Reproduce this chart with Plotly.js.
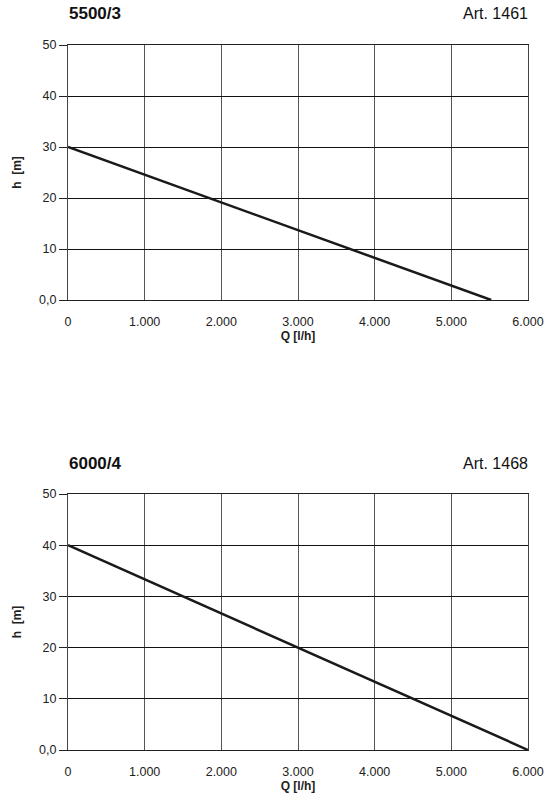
<!DOCTYPE html>
<html>
<head>
<meta charset="utf-8">
<script src="https://cdn.plot.ly/plotly-3.0.1.min.js"></script>
<style>
  body { margin: 0; background: #fff; }
  #chart { width: 555px; height: 796px; }
</style>
</head>
<body>
<div id="chart"></div>
<script>
// pump curves, Q [l/h] vs h [m]
var q1 = [0, 5520];
var h1 = [30, 0];
var q2 = [0, 6000];
var h2 = [40, 0];

var xTicks = [0, 1000, 2000, 3000, 4000, 5000, 6000];
var xLabels = ['0', '1.000', '2.000', '3.000', '4.000', '5.000', '6.000'];
var yTicks = [0, 10, 20, 30, 40, 50];
var yLabels = ['0,0', '10', '20', '30', '40', '50'];

var titles = ['5500/3', '6000/4'];
var arts = ['Art. 1461', 'Art. 1468'];

var font = 'Liberation Sans, Arial, Helvetica, sans-serif';

function line(x, y, xa, ya) {
  return {
    type: 'scatter',
    mode: 'lines',
    x: x,
    y: y,
    xaxis: xa,
    yaxis: ya,
    hoverinfo: 'skip',
    line: { color: '#1a1a1a', width: 2.5 }
  };
}

function xAxis(anchor) {
  return {
    anchor: anchor,
    range: [0, 6000],
    tickvals: xTicks,
    ticktext: xLabels,
    showgrid: true,
    gridcolor: '#555',
    gridwidth: 1,
    zeroline: false,
    showline: true,
    linecolor: '#222',
    mirror: true,
    ticks: 'outside',
    ticklen: 10,
    tickcolor: 'rgba(0,0,0,0)',
    tickfont: { size: 12.5, color: '#222' },
    title: { text: '<b>Q [l/h]</b>', font: { size: 12, color: '#222' }, standoff: 3 }
  };
}

function yAxis(anchor, domain) {
  return {
    anchor: anchor,
    domain: domain,
    range: [0, 50],
    tickvals: yTicks,
    ticktext: yLabels,
    showgrid: true,
    gridcolor: '#111',
    gridwidth: 1,
    zeroline: false,
    showline: true,
    linecolor: '#444',
    mirror: true,
    ticks: 'outside',
    ticklen: 8,
    tickcolor: '#222',
    tickfont: { size: 12.5, color: '#222' },
    title: { text: '<b>h  [m]</b>', font: { size: 12, color: '#222' }, standoff: 14 }
  };
}

var data = [line(q1, h1, 'x', 'y'), line(q2, h2, 'x2', 'y2')];

var annotations = [];
[[0, 1.045], [1, 0.406]].forEach(function (p) {
  annotations.push({
    xref: 'paper', yref: 'paper', x: -0.002, y: p[1],
    xanchor: 'left', yanchor: 'middle', showarrow: false,
    text: '<b>' + titles[p[0]] + '</b>',
    font: { family: font, size: 17, color: '#111' }
  });
  annotations.push({
    xref: 'paper', yref: 'paper', x: 1.004, y: p[1],
    xanchor: 'right', yanchor: 'middle', showarrow: false,
    text: arts[p[0]],
    font: { family: font, size: 16, color: '#111' }
  });
});

var layout = {
  width: 555,
  height: 796,
  margin: { l: 68, r: 27, t: 45, b: 46 },
  paper_bgcolor: '#fff',
  plot_bgcolor: '#fff',
  showlegend: false,
  font: { family: font, color: '#222' },
  xaxis: xAxis('y'),
  yaxis: yAxis('x', [0.6383, 1]),
  xaxis2: xAxis('y2'),
  yaxis2: yAxis('x2', [0, 0.3631]),
  annotations: annotations
};

Plotly.newPlot('chart', data, layout, { displayModeBar: false, staticPlot: true });
</script>
</body>
</html>
